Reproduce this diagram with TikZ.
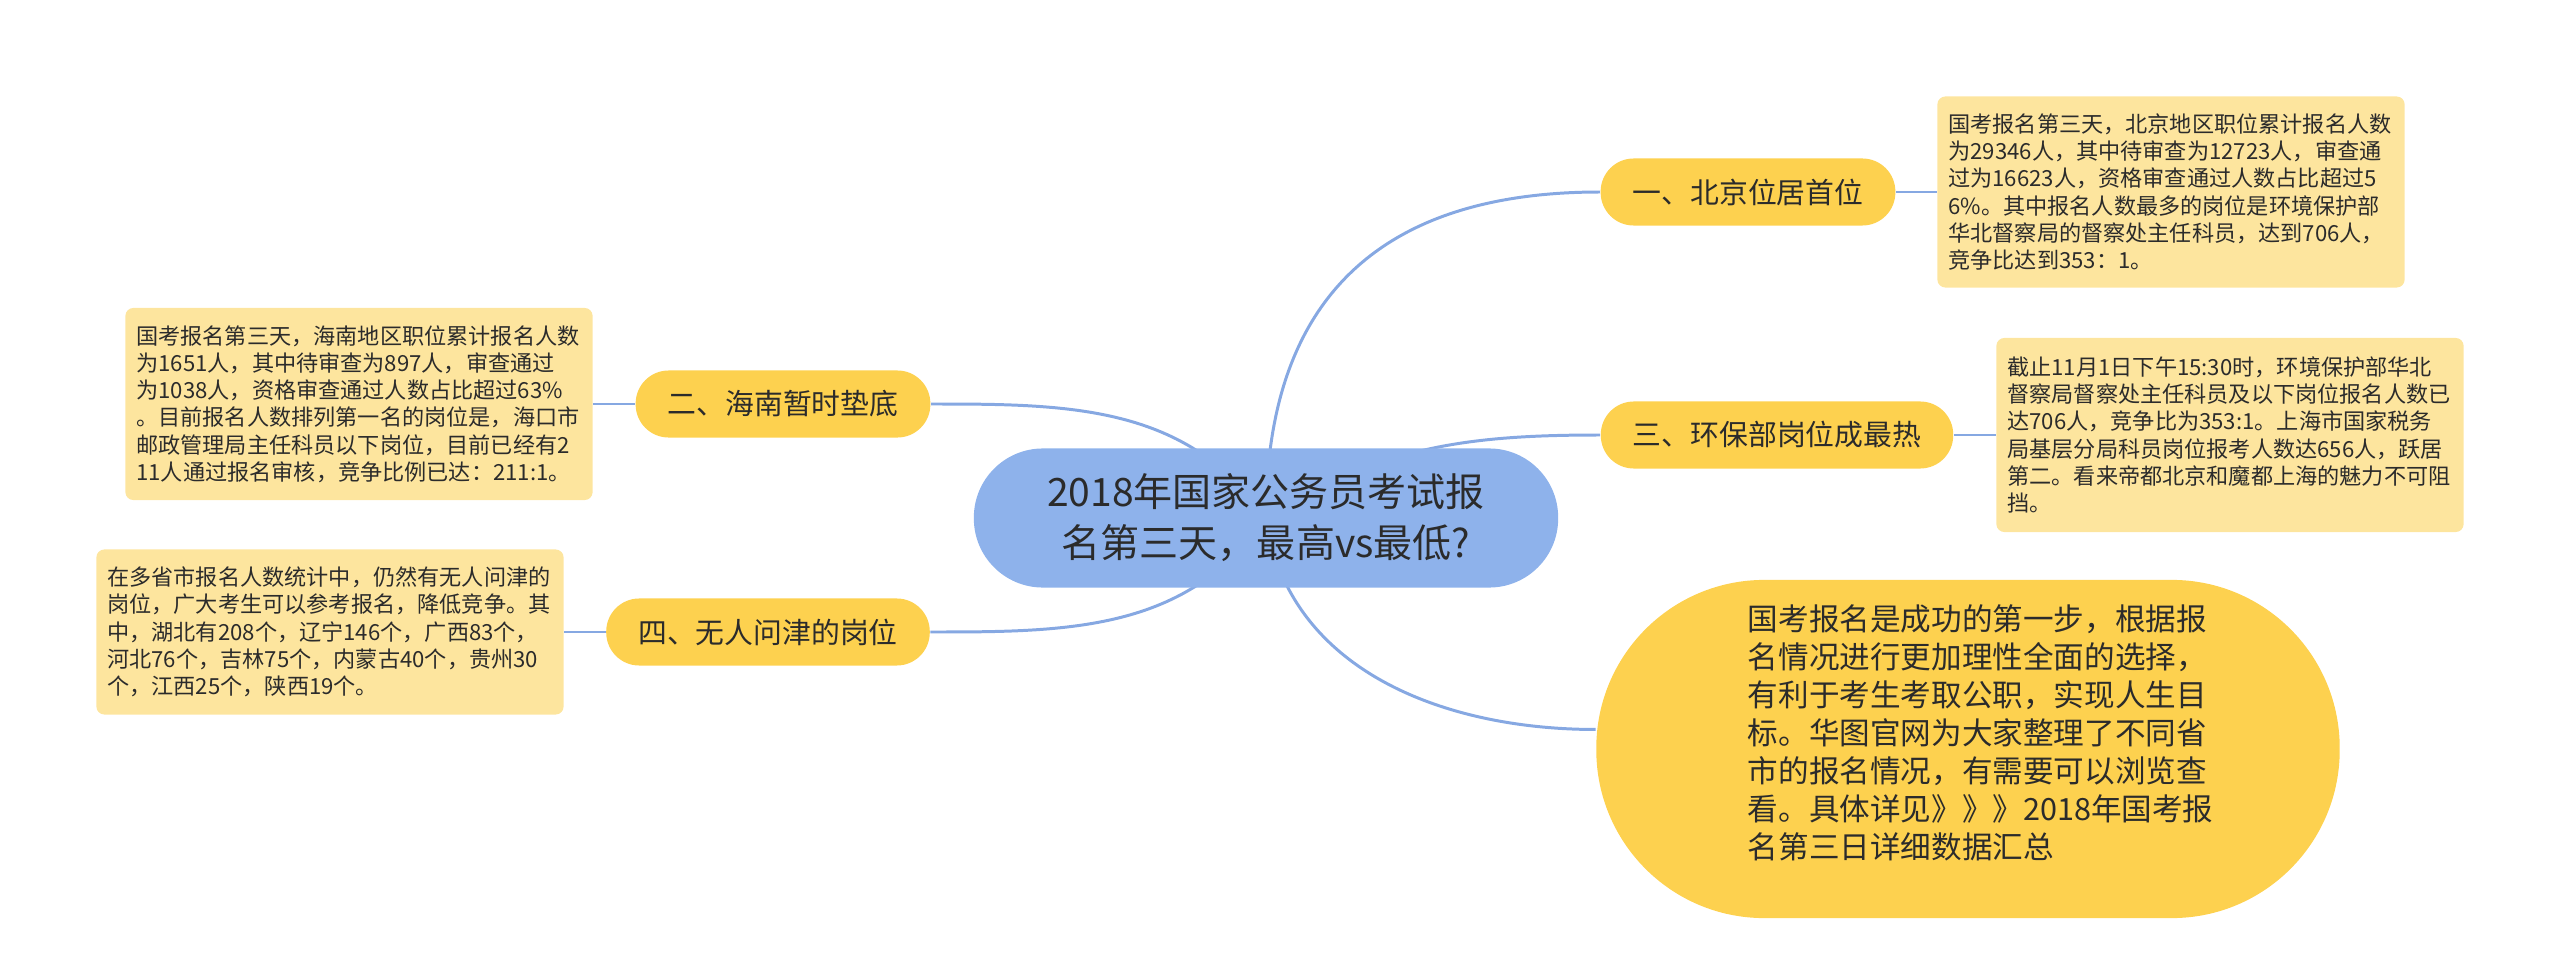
\documentclass[tikz,border=0pt]{standalone}
\usepackage{fontspec}
\setmainfont{Noto Sans CJK SC}
\usetikzlibrary{backgrounds}
\definecolor{rootblue}{HTML}{8EB2EB}
\definecolor{linkblue}{HTML}{86A8E2}
\definecolor{pillyellow}{HTML}{FDD14F}
\definecolor{notecream}{HTML}{FDE59E}
\definecolor{inkgray}{HTML}{2B2B2B}

\begin{document}
\begin{tikzpicture}[x=0.01cm,y=-0.01cm,
  rootnode/.style={fill=rootblue,minimum width=5.84cm,minimum height=1.39cm,rounded corners=0.69cm,align=center,text=inkgray,font=\fontsize{11.1}{14.5}\selectfont},
  pill/.style={fill=pillyellow,minimum height=0.67cm,inner xsep=0.32cm,rounded corners=0.33cm,text=inkgray,font=\fontsize{8.2}{10}\selectfont},
  note/.style={fill=notecream,rounded corners=0.08cm,text width=4.45cm,inner xsep=0.11cm,align=left,text=inkgray,font=\fontsize{6.3}{7.75}\selectfont},
  bigbubble/.style={fill=pillyellow,minimum width=7.43cm,minimum height=3.38cm,rounded corners=1.68cm,text width=4.4cm,align=left,text=inkgray,font=\fontsize{8.7}{10.8}\selectfont},
  link/.style={draw=linkblue,line width=0.85pt}]
  \useasboundingbox (0,0) rectangle (2560,973);

  \node[rootnode] (root) at (1266,518) {2018年国家公务员考试报\\名第三天，最高vs最低?};

  \node[pill] (bj) at (1748,192) {一、北京位居首位};
  \node[pill] (hb) at (1777,435) {三、环保部岗位成最热};
  \node[pill] (hn) at (783,404) {二、海南暂时垫底};
  \node[pill] (wr) at (768,632) {四、无人问津的岗位};

  \node[note,minimum height=1.91cm] (bjnote) at (2171,192) {国考报名第三天，北京地区职位累计报名人数\\为29346人，其中待审查为12723人，审查通\\过为16623人，资格审查通过人数占比超过5\\6\%。其中报名人数最多的岗位是环境保护部\\华北督察局的督察处主任科员，达到706人，\\竞争比达到353：1。};
  \node[note,minimum height=1.94cm] (hbnote) at (2230,435) {截止11月1日下午15:30时，环境保护部华北\\督察局督察处主任科员及以下岗位报名人数已\\达706人，竞争比为353:1。上海市国家税务\\局基层分局科员岗位报考人数达656人，跃居\\第二。看来帝都北京和魔都上海的魅力不可阻\\挡。};
  \node[note,minimum height=1.92cm] (hnnote) at (359,404) {国考报名第三天，海南地区职位累计报名人数\\为1651人，其中待审查为897人，审查通过\\为1038人，资格审查通过人数占比超过63\%\\。目前报名人数排列第一名的岗位是，海口市\\邮政管理局主任科员以下岗位，目前已经有2\\11人通过报名审核，竞争比例已达：211:1。};
  \node[note,minimum height=1.65cm] (wrnote) at (330,632) {在多省市报名人数统计中，仍然有无人问津的\\岗位，广大考生可以参考报名，降低竞争。其\\中，湖北有208个，辽宁146个，广西83个，\\河北76个，吉林75个，内蒙古40个，贵州30\\个，江西25个，陕西19个。};

  \node[bigbubble] (big) at (1968,749) {国考报名是成功的第一步，根据报\\名情况进行更加理性全面的选择，\\有利于考生考取公职，实现人生目\\标。华图官网为大家整理了不同省\\市的报名情况，有需要可以浏览查\\看。具体详见》》》2018年国考报\\名第三日详细数据汇总\par\vspace*{0.32cm}};

  \begin{scope}[on background layer]
    \draw[link] (root.center) to[out=90,in=180,looseness=1.2] (bj.west);
    \draw[link] (root.center) to[out=32,in=180] (hb.west);
    \draw[link] (root.center) to[out=125,in=0] (hn.east);
    \draw[link] (root.center) to[out=235,in=0] (wr.east);
    \draw[link] (root.center) to[out=-82,in=180] (big.177);
    \draw[link] (bj.east) -- (bjnote.west);
    \draw[link] (hb.east) -- (hbnote.west);
    \draw[link] (hn.west) -- (hnnote.east);
    \draw[link] (wr.west) -- (wrnote.east);
  \end{scope}
\end{tikzpicture}
\end{document}
